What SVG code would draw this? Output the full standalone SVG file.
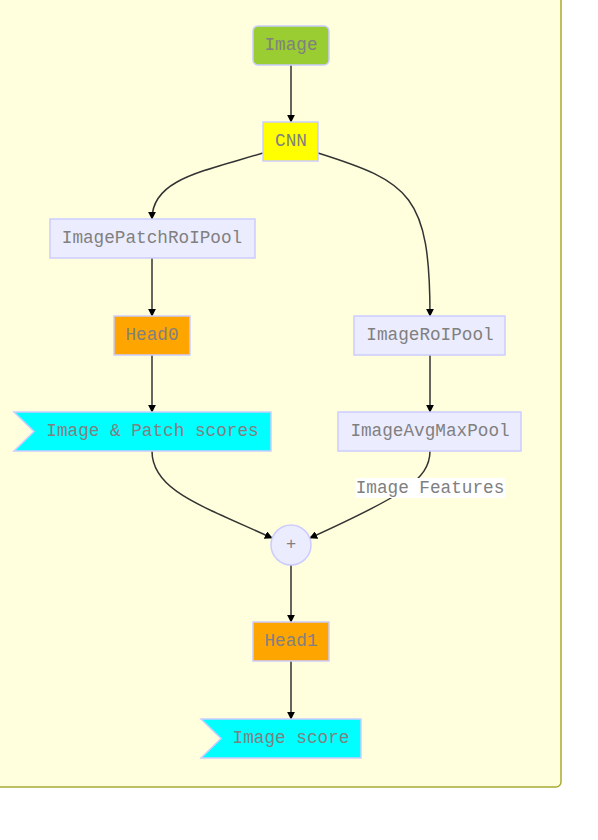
<svg xmlns="http://www.w3.org/2000/svg" width="598" height="840" viewBox="0 0 598 840">
<defs>
<style>
.bg{fill:#ffffde;stroke:#aaaa33;stroke-width:1.5}
.n{stroke:#ccccff;stroke-width:1.5}
.t{font-family:"Liberation Mono","DejaVu Sans Mono",monospace;font-size:17.7px;fill:#808080;text-anchor:middle;dominant-baseline:central}
.e{fill:none;stroke:#333;stroke-width:1.5;marker-end:url(#ah)}
</style>
<marker id="ah" viewBox="0 0 10 10" refX="9" refY="5" markerWidth="8" markerHeight="8" markerUnits="userSpaceOnUse" orient="auto">
<path d="M0,0 L10,5 L0,10 z" fill="#000"/>
</marker>
</defs>
<rect class="bg" x="-20" y="-20" width="581" height="807" rx="5"/>
<g id="edges">
<path class="e" d="M291,65 L291,122"/>
<path class="e" d="M263,153 C200,172 152,180 152,219"/>
<path class="e" d="M318,153 C410,182 430,195 430,316"/>
<path class="e" d="M152,258 L152,316"/>
<path class="e" d="M152,355 L152,412"/>
<path class="e" d="M430,355 L430,412"/>
<path class="e" d="M152,451 C152,490 200,505 272,538"/>
<path class="e" d="M430,451 C430,480 400,497 310,538"/>
<path class="e" d="M291,565 L291,622"/>
<path class="e" d="M291,661 L291,719"/>
<rect x="355" y="478" width="150" height="20" fill="#ffffff"/>
<text class="t" x="430" y="488">Image Features</text>
</g>
<g id="Image"><rect class="n" x="253" y="26" width="76" height="39" rx="5" fill="#9acd32"/><text class="t" x="291" y="45">Image</text></g>
<g id="CNN"><rect class="n" x="263" y="122" width="55" height="39" fill="#ffff00"/><text class="t" x="291" y="141">CNN</text></g>
<g id="ImagePatchRoIPool"><rect class="n" x="50" y="219" width="205" height="39" fill="#ececff"/><text class="t" x="152" y="238">ImagePatchRoIPool</text></g>
<g id="Head0"><rect class="n" x="114" y="316" width="76" height="39" fill="#ffa500"/><text class="t" x="152" y="335">Head0</text></g>
<g id="ImagePatchScores"><polygon class="n" points="14,412 271,412 271,451 14,451 34,431.5" fill="#00ffff"/><text class="t" x="152.5" y="431">Image &amp; Patch scores</text></g>
<g id="ImageRoIPool"><rect class="n" x="354" y="316" width="151" height="39" fill="#ececff"/><text class="t" x="430" y="335">ImageRoIPool</text></g>
<g id="ImageAvgMaxPool"><rect class="n" x="338" y="412" width="183" height="39" fill="#ececff"/><text class="t" x="430" y="431">ImageAvgMaxPool</text></g>
<g id="Plus"><circle class="n" cx="291" cy="545" r="20" fill="#ececff"/><text class="t" x="291" y="544" style="font-size:17px">+</text></g>
<g id="Head1"><rect class="n" x="253" y="622" width="76" height="39" fill="#ffa500"/><text class="t" x="291" y="641">Head1</text></g>
<g id="ImageScore"><polygon class="n" points="201,719 361,719 361,758 201,758 221,738.5" fill="#00ffff"/><text class="t" x="291" y="738">Image score</text></g>
</svg>
